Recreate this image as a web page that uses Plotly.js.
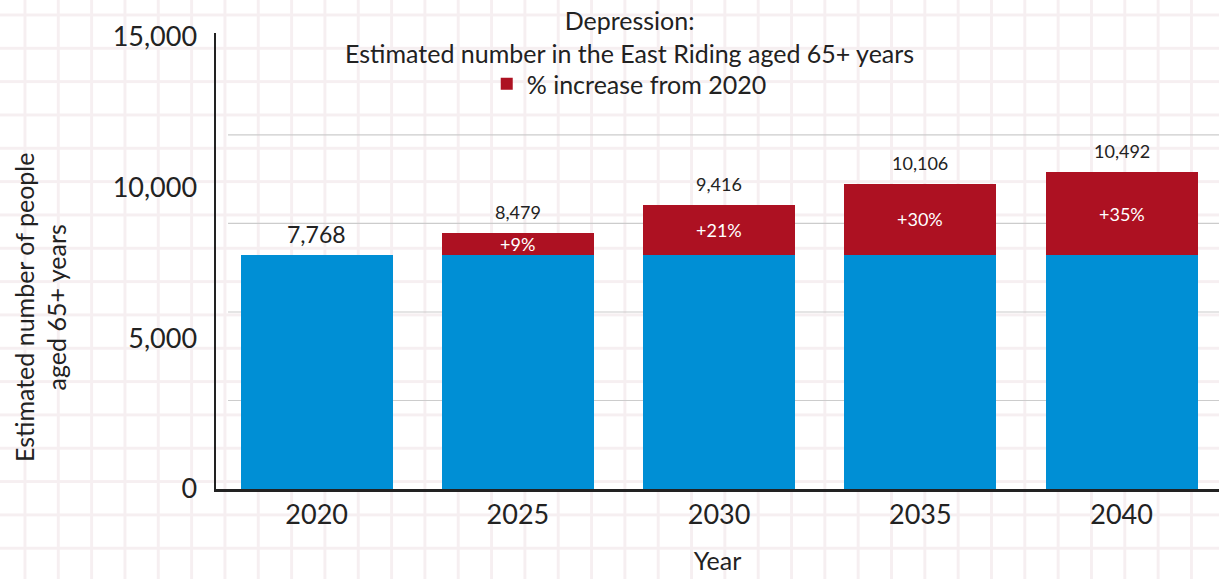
<!DOCTYPE html>
<html>
<head>
<meta charset="utf-8">
<script src="https://cdn.plot.ly/plotly-3.0.1.min.js"></script>
<style>
  html, body { margin: 0; padding: 0; }
  body {
    width: 1219px; height: 579px; overflow: hidden;
    background-color: #ffffff;
    /* light graph-paper backdrop */
    background-image:
      linear-gradient(to right, #f6eff1 3px, transparent 3px),
      linear-gradient(to bottom, #f6eff1 3px, transparent 3px);
    background-size: 33.333px 33.333px;
    background-position: 23.5px 13.5px;
  }
  #chart { width: 1219px; height: 579px; }
</style>
</head>
<body>
<div id="chart"></div>
<script>
// Projected number of people aged 65+ with depression, East Riding
const years = ['2020', '2025', '2030', '2035', '2040'];
const totals = [7768, 8479, 9416, 10106, 10492];
const baseYearValue = 7768;
const yTickVals = [0, 5000, 10000, 15000];
const yTickText = ['0', '5,000', '10,000', '15,000'];

const BLUE = '#008fd5';
const RED = '#ad1122';
const INK = '#222222';
const FONT = 'Lato, "Open Sans", sans-serif';

// Blue base = 2020 level; red = growth on top of it
const baseSeries = years.map(() => baseYearValue);
const increaseSeries = totals.map(v => v - baseYearValue);
const pctLabels = totals.map(v => '+' + Math.round((v / baseYearValue - 1) * 100) + '%');

const traces = [
  {
    type: 'bar', x: years, y: baseSeries,
    marker: { color: BLUE }, showlegend: false, hoverinfo: 'skip'
  },
  {
    type: 'bar', x: years, y: increaseSeries,
    name: '% increase from 2020',
    marker: { color: RED }, hoverinfo: 'skip'
  }
];

const annotations = [];
// category axis: annotations are placed by category index
totals.forEach((v, i) => {
  const isBase = i === 0;
  annotations.push({
    x: i, y: v, xref: 'x', yref: 'y',
    text: v.toLocaleString('en-GB'),
    showarrow: false, yanchor: 'bottom', yshift: isBase ? 5 : 8,
    font: { family: FONT, size: isBase ? 23 : 18, color: INK }
  });
  if (increaseSeries[i] > 0) {
    annotations.push({
      x: i, y: baseYearValue + increaseSeries[i] / 2, xref: 'x', yref: 'y',
      text: pctLabels[i], showarrow: false, yanchor: 'middle',
      font: { family: FONT, size: 18, color: '#ffffff' }
    });
  }
});

// Chart heading (two lines)
annotations.push({
  xref: 'paper', yref: 'paper', x: 0.4118, y: 1.066,
  xanchor: 'center', yanchor: 'top',
  text: 'Depression:<br>Estimated number in the East Riding aged 65+ years',
  showarrow: false, font: { family: FONT, size: 25, color: INK }
});

// Rotated two-line y-axis caption
annotations.push({
  xref: 'paper', yref: 'paper', x: -0.175, y: 0.4,
  xanchor: 'center', yanchor: 'middle', textangle: -90,
  text: 'Estimated number of people<br>aged 65+ years',
  showarrow: false, font: { family: FONT, size: 25, color: INK }
});

// Light horizontal guide lines behind the bars
const GUIDE_STEP = 0.1941;
const shapes = [];
for (let k = 1; k <= 4; k++) {
  shapes.push({
    type: 'line', layer: 'below', xref: 'paper', yref: 'paper',
    x0: 0.012, x1: 1, y0: k * GUIDE_STEP, y1: k * GUIDE_STEP,
    line: { color: '#cccccc', width: 1.2 }
  });
}

const layout = {
  width: 1219, height: 579,
  margin: { l: 216, r: 0, t: 33, b: 90 },
  paper_bgcolor: 'rgba(0,0,0,0)',
  plot_bgcolor: 'rgba(0,0,0,0)',
  font: { family: FONT, color: INK },
  barmode: 'stack',
  bargap: 0.245,
  legend: {
    orientation: 'h', x: 0.412, y: 0.888, xanchor: 'center', yanchor: 'middle',
    bgcolor: 'rgba(0,0,0,0)',
    font: { family: FONT, size: 25, color: INK }
  },
  xaxis: {
    type: 'category', range: [-0.5, 4.484],
    showline: true, linecolor: INK, linewidth: 2.5,
    showgrid: false, zeroline: false,
    ticks: '',
    tickfont: { family: FONT, size: 27, color: INK },
    title: { text: 'Year', standoff: 24, font: { family: FONT, size: 25, color: INK } }
  },
  yaxis: {
    range: [0, 15116],
    tickvals: yTickVals, ticktext: yTickText,
    showline: true, linecolor: INK, linewidth: 2.5,
    showgrid: false, zeroline: false,
    ticks: 'outside', ticklen: 11, tickcolor: 'rgba(0,0,0,0)',
    tickfont: { family: FONT, size: 27, color: INK }
  },
  annotations: annotations,
  shapes: shapes
};

Plotly.newPlot('chart', traces, layout, { displayModeBar: false, staticPlot: true });
</script>
</body>
</html>
